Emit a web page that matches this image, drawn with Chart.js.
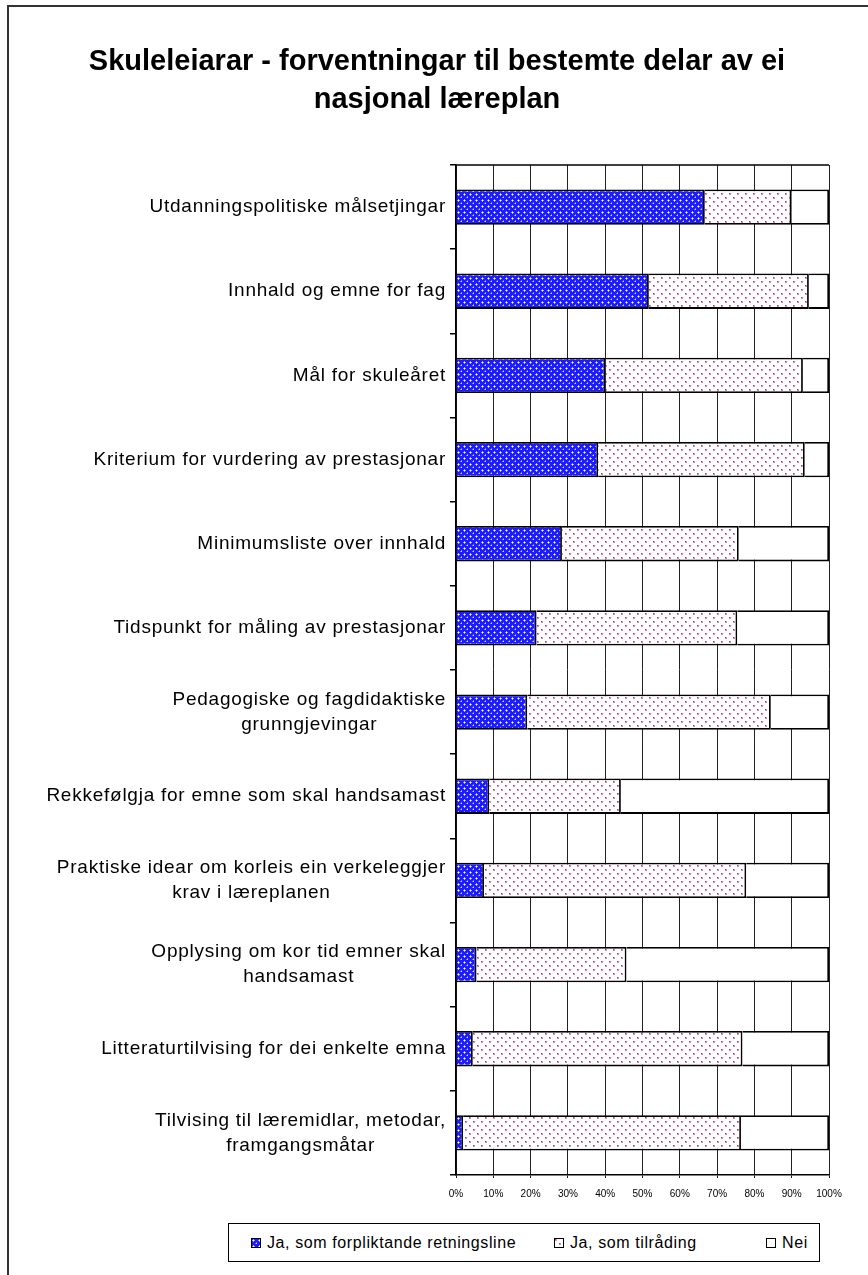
<!DOCTYPE html>
<html>
<head>
<meta charset="utf-8">
<script src="https://cdn.jsdelivr.net/npm/chart.js@4.4.0/dist/chart.umd.min.js"></script>
<style>
  body { margin: 0; background: #fff; font-family: "Liberation Sans", Arial, sans-serif; }
  #ramme { position: absolute; left: 7px; top: 5px; width: 900px; height: 1300px; border-left: 2px solid #333; border-top: 2px solid #333; }
  #wrap { position: absolute; left: 0; top: 0; width: 868px; height: 1215px; }
  #legend { position: absolute; left: 228px; top: 1223px; width: 592px; height: 39px; border: 1px solid #000; box-sizing: border-box; font-size: 16px; letter-spacing: 0.6px; }
  .item { position: absolute; top: 0; height: 37px; display: flex; align-items: center; white-space: nowrap; }
  .item canvas { margin-right: 6px; }
</style>
</head>
<body>
<div id="ramme"></div>
<div id="wrap"><canvas id="skuleleiarar"></canvas></div>
<div id="legend"></div>
<script>
// Kategoriar (y-aksen)
const kategoriar = [
  'Utdanningspolitiske målsetjingar',
  'Innhald og emne for fag',
  'Mål for skuleåret',
  'Kriterium for vurdering av prestasjonar',
  'Minimumsliste over innhald',
  'Tidspunkt for måling av prestasjonar',
  ['Pedagogiske og fagdidaktiske', 'grunngjevingar'],
  'Rekkefølgja for emne som skal handsamast',
  ['Praktiske idear om korleis ein verkeleggjer', 'krav i læreplanen'],
  ['Opplysing om kor tid emner skal', 'handsamast'],
  'Litteraturtilvising for dei enkelte emna',
  ['Tilvising til læremidlar, metodar,', 'framgangsmåtar']
];

// Seriar (prosent)
const serienamn = ['Ja, som forpliktande retningsline', 'Ja, som tilråding', 'Nei'];
const forpliktande = [66.7, 51.7, 40.1, 38.1, 28.4, 21.6, 19.1, 8.9, 7.5, 5.5, 4.5, 1.9];
const tilraading = [23.2, 42.9, 52.9, 55.4, 47.4, 53.8, 65.3, 35.3, 70.3, 40.2, 72.3, 74.5];
const nei = [10.1, 5.4, 7.0, 6.5, 24.2, 24.6, 15.6, 55.8, 22.2, 54.3, 23.2, 23.6];

const tittel = ['Skuleleiarar - forventningar til bestemte delar av ei', 'nasjonal læreplan'];
const font = '"Liberation Sans", Arial, sans-serif';

// Mønster for fyll
function blaaMonster() {
    const c = document.createElement('canvas');
    c.width = 6; c.height = 6;
    const g = c.getContext('2d');
    g.fillStyle = '#1c1cff';
    g.fillRect(0, 0, 6, 6);
    g.fillStyle = '#9a9aff';
    g.fillRect(2, 1, 1, 3);
    g.fillRect(1, 2, 3, 1);
    g.fillStyle = '#ffffff';
    g.fillRect(2, 2, 1, 1);
    g.fillStyle = '#7474ff';
    g.fillRect(5, 4, 1, 3);
    g.fillRect(4, 5, 3, 1);
    g.fillStyle = '#d0d0ff';
    g.fillRect(5, 5, 1, 1);
    return g.createPattern(c, 'repeat');
}

function rosaMonster() {
    const c = document.createElement('canvas');
    c.width = 8; c.height = 8;
    const g = c.getContext('2d');
    g.fillStyle = '#ffffff';
    g.fillRect(0, 0, 8, 8);
    g.fillStyle = '#d28fb4';
    g.fillRect(1, 1, 2, 2);
    g.fillRect(5, 5, 2, 2);
    g.fillStyle = '#a23e76';
    g.fillRect(1, 1, 1, 1);
    g.fillRect(5, 5, 1, 1);
    return g.createPattern(c, 'repeat');
}

const fyll = [blaaMonster(), rosaMonster(), '#ffffff'];

// Kategorietikettar, fleirlinjer sentrert i blokka
const yEtikettar = {
    id: 'yEtikettar',
    afterDraw(chart) {
        const ctx = chart.ctx;
        const y = chart.scales.y;
        const area = chart.chartArea;
        ctx.save();
        ctx.font = '19px ' + font;
        ctx.letterSpacing = '0.75px';
        ctx.fillStyle = '#000';
        ctx.textAlign = 'center';
        ctx.textBaseline = 'middle';
        const right = area.left - 10;
        chart.data.labels.forEach((lab, i) => {
            const linjer = Array.isArray(lab) ? lab : [lab];
            const w = Math.max(...linjer.map(l => ctx.measureText(l).width));
            const cy = y.getPixelForValue(i);
            linjer.forEach((l, k) => {
                ctx.fillText(l, right - w / 2, cy + (k - (linjer.length - 1) / 2) * 25);
            });
        });
        ctx.restore();
    }
};

// Toppkant av plottet
const toppkant = {
    id: 'toppkant',
    afterDraw(chart) {
        const ctx = chart.ctx;
        const a = chart.chartArea;
        ctx.save();
        ctx.strokeStyle = '#000';
        ctx.lineWidth = 1.5;
        ctx.beginPath();
        ctx.moveTo(a.left, a.top);
        ctx.lineTo(a.right, a.top);
        ctx.stroke();
        ctx.restore();
    }
};

const cs = document.getElementById('skuleleiarar');

const chart = new Chart(cs, {
    type: 'bar',
    data: {
        labels: kategoriar,
        datasets: [forpliktande, tilraading, nei].map((d, i) => ({
            label: serienamn[i],
            data: d,
            backgroundColor: fyll[i],
            borderColor: '#000',
            borderWidth: 1.8,
            barPercentage: 0.42,
            categoryPercentage: 1
        }))
    },
    options: {
        indexAxis: 'y',
        responsive: true,
        maintainAspectRatio: false,
        animation: false,
        layout: {
            padding: { top: 0, right: 39, bottom: 0, left: 45 }
        },
        plugins: {
            legend: { display: false },
            tooltip: { enabled: false },
            title: {
                display: true,
                text: tittel,
                color: '#000',
                font: { family: font, size: 29, weight: 'bold', lineHeight: 1.31 },
                padding: { top: 43, bottom: 46 }
            }
        },
        scales: {
            x: {
                stacked: true,
                min: 0,
                max: 100,
                afterFit(s) { s.height = 40; },
                ticks: {
                    stepSize: 10,
                    callback: v => v + '%',
                    color: '#000',
                    font: { family: font, size: 10 },
                    padding: 10,
                    maxRotation: 0,
                    autoSkip: false
                },
                grid: { color: '#222', lineWidth: 1, tickLength: 3 },
                border: { color: '#000', width: 1.5 }
            },
            y: {
                stacked: true,
                afterFit(s) { s.width = 411; },
                ticks: { display: false },
                grid: { offset: true, drawOnChartArea: false, tickLength: 6, color: '#000', lineWidth: 1.5 },
                border: { color: '#000', width: 1.5 }
            }
        }
    },
    plugins: [yEtikettar, toppkant]
});

// Forklaring
const legendX = [22, 325, 537];
const legend = document.getElementById('legend');
chart.data.datasets.forEach((ds, i) => {
    const item = document.createElement('div');
    item.className = 'item';
    item.style.left = legendX[i] + 'px';
    const sw = document.createElement('canvas');
    sw.width = 10; sw.height = 10;
    const g = sw.getContext('2d');
    g.fillStyle = ds.backgroundColor;
    g.fillRect(0, 0, 10, 10);
    g.strokeStyle = '#000';
    g.lineWidth = 1;
    g.strokeRect(0.5, 0.5, 9, 9);
    item.appendChild(sw);
    const t = document.createElement('span');
    t.textContent = ds.label;
    item.appendChild(t);
    legend.appendChild(item);
});
</script>
</body>
</html>
